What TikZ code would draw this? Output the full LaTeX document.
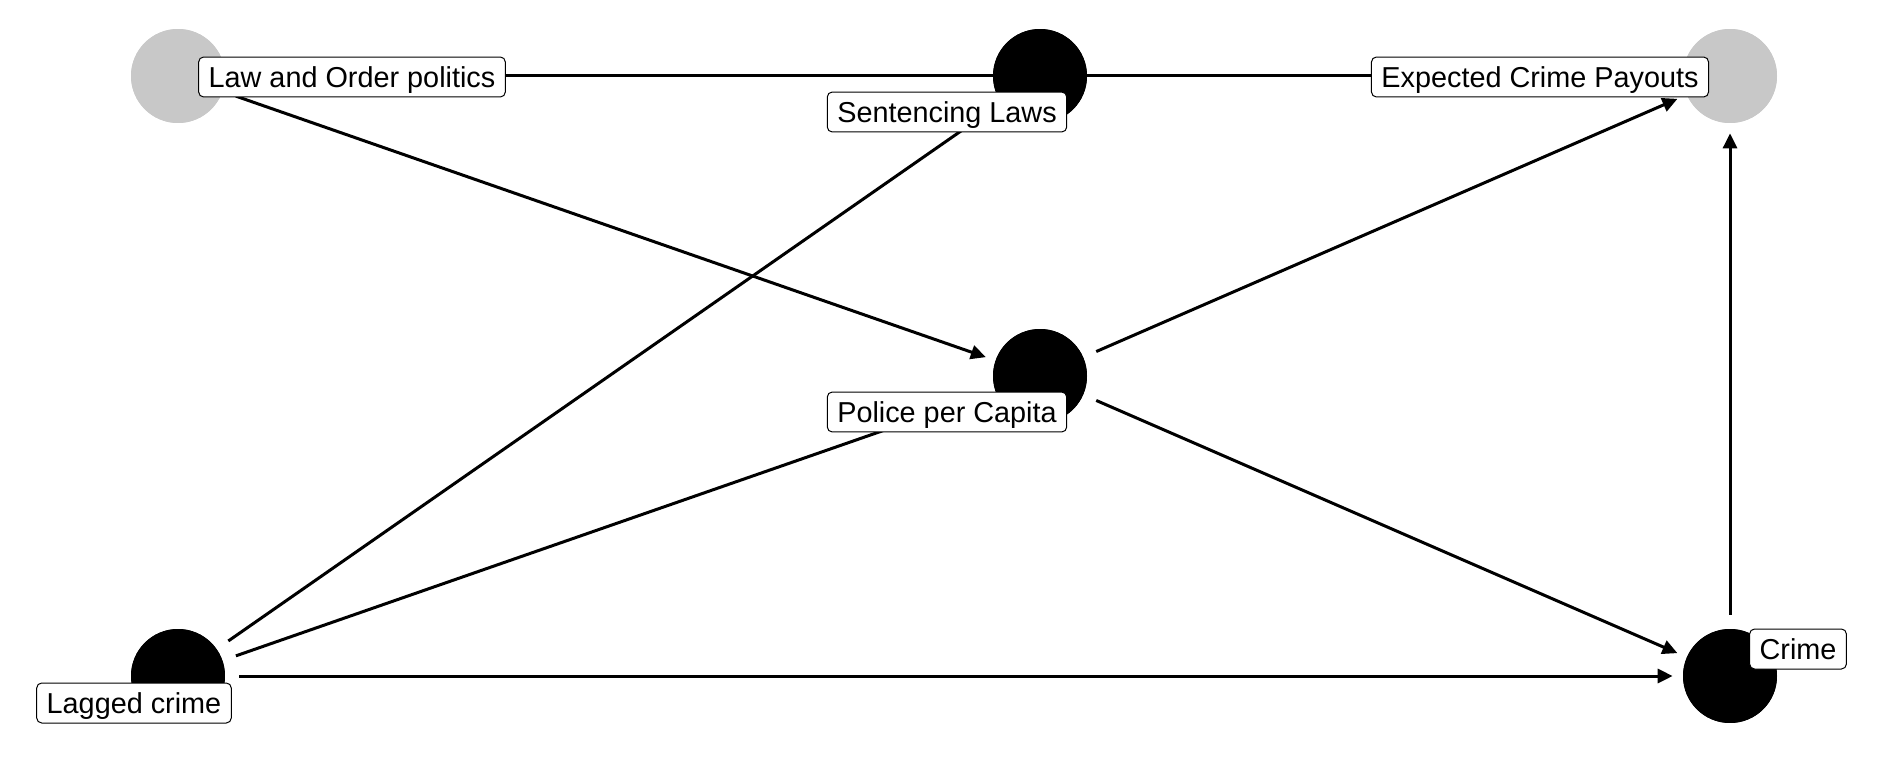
\documentclass[tikz,border=0pt]{standalone}
\usepackage{fontspec}
\setmainfont{Liberation Sans}
\usetikzlibrary{arrows.meta}
\definecolor{latentgray}{HTML}{C8C8C8}
\begin{document}
\begin{tikzpicture}[x=0.02cm,y=-0.02cm,
  dot/.style={circle,inner sep=0pt,minimum size=1.88cm,fill=black},
  latent/.style={dot,fill=latentgray},
  lbl/.style={draw=black,line width=0.02cm,fill=white,rounded corners=0.1cm,
    inner xsep=0.2cm,inner ysep=0pt,minimum height=0.8cm,
    text height=0.42cm,text depth=0pt,
    font=\fontsize{16.4}{19}\selectfont},
  edge/.style={line width=0.06cm,-{Triangle[length=0.3cm,width=0.28cm]},
    shorten <=0.28cm,shorten >=0.2cm}]
\useasboundingbox (0,0) rectangle (1900,760);
% circles (positions)
\node[latent] (lo) at (178,76) {};
\node[dot] (sl) at (1040,76) {};
\node[latent] (ep) at (1730,76) {};
\node[dot] (pc) at (1040,376) {};
\node[dot] (lc) at (178,676) {};
\node[dot] (cr) at (1730,676) {};
% edges
\draw[edge] (lo) -- (ep);
\draw[edge] (sl) -- (ep);
\draw[edge] (lo) -- (pc);
\draw[edge] (lc) -- (sl);
\draw[edge] (lc) -- (pc);
\draw[edge] (lc) -- (cr);
\draw[edge] (pc) -- (ep);
\draw[edge] (pc) -- (cr);
\draw[edge] (cr) -- (ep);
% redraw circles over edges
\node[latent] at (lo.center) {};
\node[dot] at (sl.center) {};
\node[latent] at (ep.center) {};
\node[dot] at (pc.center) {};
\node[dot] at (lc.center) {};
\node[dot] at (cr.center) {};
% labels
\node[lbl] (lolbl) at (352,77) {Law and Order politics};
\node[lbl] (sllbl) at (947,112) {Sentencing Laws};
\node[lbl] (eplbl) at (1540,77) {Expected Crime Payouts};
\node[lbl] (pclbl) at (947,412) {Police per Capita};
\node[lbl] (lclbl) at (134,703) {Lagged crime};
\node[lbl] (crlbl) at (1798,649) {Crime};
\end{tikzpicture}
\end{document}
